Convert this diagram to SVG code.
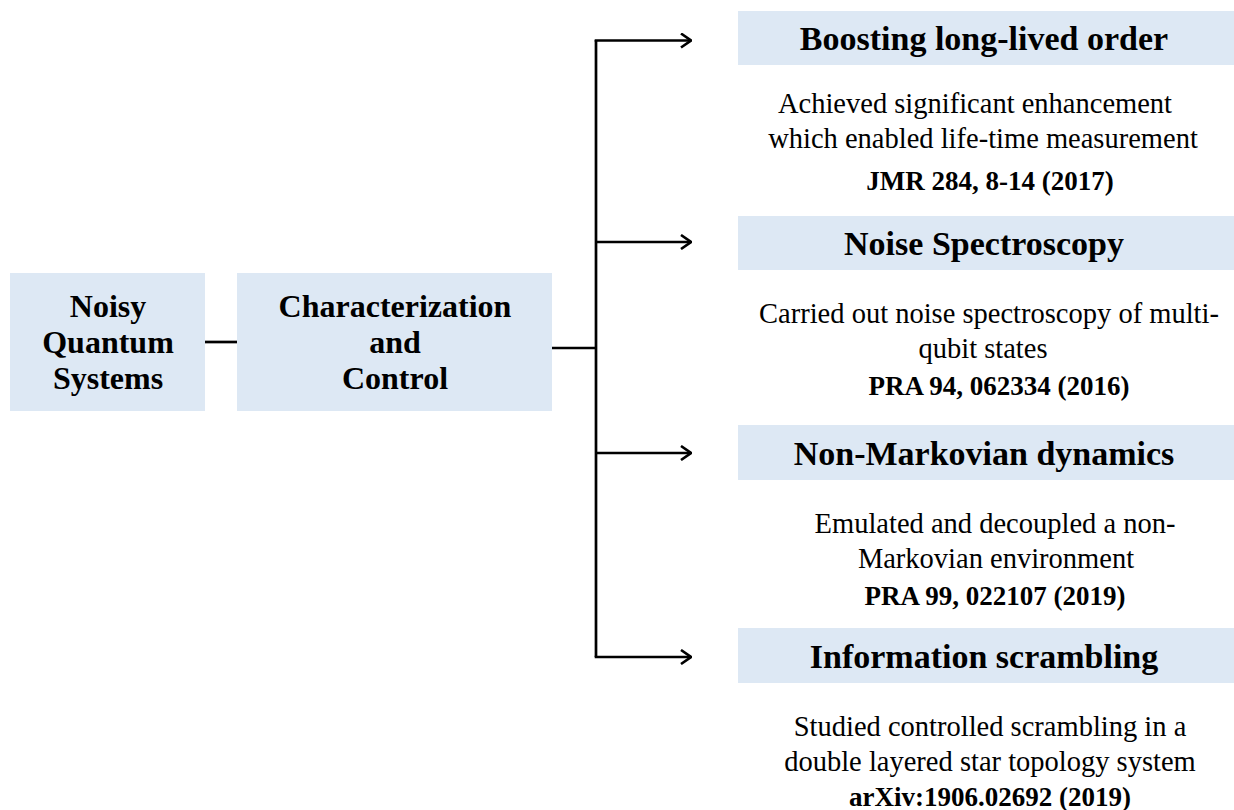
<svg xmlns="http://www.w3.org/2000/svg" width="1234" height="810" viewBox="0 0 1234 810">
<defs>
<style>
.box{fill:#dde8f4;}
.t{font-family:"Liberation Serif","Times New Roman",serif;fill:#000;text-anchor:middle;}
.b{font-weight:bold;font-size:34px;}
.l{font-weight:bold;font-size:32px;}
.n{font-size:28.5px;}
.r{font-weight:bold;font-size:27px;}
.c{stroke:#000;stroke-width:2.7;fill:none;}
</style>
<marker id="ah" viewBox="0 0 12 16" refX="11" refY="8" markerWidth="12" markerHeight="16" markerUnits="userSpaceOnUse" orient="auto">
<path d="M1,1 L11,8 L1,15" fill="none" stroke="#000" stroke-width="2.6"/>
</marker>
</defs>
<rect width="1234" height="810" fill="#fff"/>
<g id="connectors">
<line class="c" x1="205" y1="342" x2="237" y2="342"/>
<line class="c" x1="552" y1="348" x2="597" y2="348"/>
<line class="c" x1="596" y1="40" x2="596" y2="657"/>
<line class="c" x1="594.7" y1="40.5" x2="691" y2="40.5" marker-end="url(#ah)"/>
<line class="c" x1="596" y1="242" x2="691" y2="242" marker-end="url(#ah)"/>
<line class="c" x1="596" y1="453" x2="691" y2="453" marker-end="url(#ah)"/>
<line class="c" x1="594.7" y1="657" x2="691" y2="657" marker-end="url(#ah)"/>
</g>
<g id="noisy">
<rect class="box" x="10" y="273" width="195" height="138"/>
<text class="t l" x="108" y="317">Noisy</text>
<text class="t l" x="108" y="353">Quantum</text>
<text class="t l" x="108" y="389">Systems</text>
</g>
<g id="charcontrol">
<rect class="box" x="237" y="273" width="315" height="138"/>
<text class="t l" x="395" y="317">Characterization</text>
<text class="t l" x="395" y="353">and</text>
<text class="t l" x="395" y="389">Control</text>
</g>
<g id="boosting">
<rect class="box" x="738" y="11" width="496" height="54"/>
<text class="t b" x="984" y="50">Boosting long-lived order</text>
<text class="t n" x="975" y="113">Achieved significant enhancement</text>
<text class="t n" x="983" y="148">which enabled life-time measurement</text>
<text class="t r" x="990" y="190">JMR 284, 8-14 (2017)</text>
</g>
<g id="noise">
<rect class="box" x="738" y="216" width="496" height="54"/>
<text class="t b" x="984" y="255">Noise Spectroscopy</text>
<text class="t n" x="989" y="323">Carried out noise spectroscopy of multi-</text>
<text class="t n" x="983" y="358">qubit states</text>
<text class="t r" x="999" y="395">PRA 94, 062334 (2016)</text>
</g>
<g id="nonmarkov">
<rect class="box" x="738" y="425" width="496" height="55"/>
<text class="t b" x="984" y="465">Non-Markovian dynamics</text>
<text class="t n" x="995" y="533">Emulated and decoupled a non-</text>
<text class="t n" x="996" y="568">Markovian environment</text>
<text class="t r" x="995" y="605">PRA 99, 022107 (2019)</text>
</g>
<g id="scrambling">
<rect class="box" x="738" y="628" width="496" height="55"/>
<text class="t b" x="984" y="668">Information scrambling</text>
<text class="t n" x="990" y="736">Studied controlled scrambling in a</text>
<text class="t n" x="990" y="771">double layered star topology system</text>
<text class="t r" x="990" y="806">arXiv:1906.02692 (2019)</text>
</g>
</svg>
